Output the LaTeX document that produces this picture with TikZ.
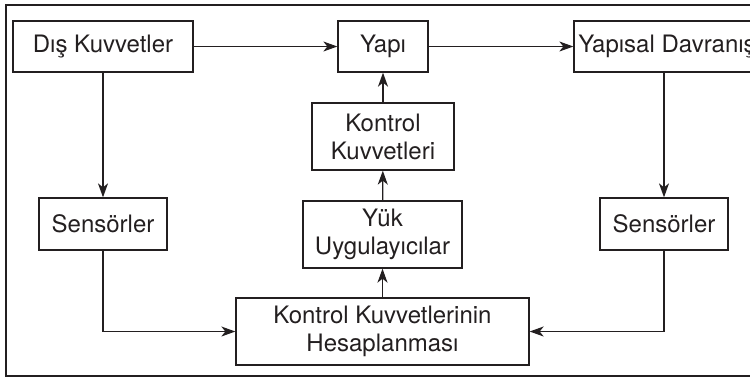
\documentclass[tikz,border=0pt]{standalone}
\usepackage{fontspec}
\setmainfont{TeX Gyre Heros}
\usetikzlibrary{arrows.meta}
\definecolor{ink}{RGB}{35,31,32}
\begin{document}
\begin{tikzpicture}[x=0.5pt,y=-0.5pt,
  box/.style={draw=ink, text=ink, line width=0.65pt, inner sep=0pt, align=center,
    font=\fontsize{12}{14}\selectfont},
  arr/.style={draw=ink, line width=0.65pt, -{Stealth[length=7pt,width=5pt,inset=2pt]}},
  frame/.style={draw=ink, line width=1.2pt}]
\useasboundingbox (0,0) rectangle (750,382);
\draw[frame] (780,5) -- (6,5) -- (6,376) -- (780,376);
\node[box, minimum width=90pt, minimum height=25.5pt] (dis) at (103,46.5) {Dış Kuvvetler};
\node[box, minimum width=45pt, minimum height=25.5pt] (yapi) at (383,46.5) {Yapı};
\node[box, minimum width=93pt, minimum height=25.5pt] (yd) at (667,46.5) {Yapısal Davranış};
\node[box, minimum width=71pt, minimum height=33.5pt] (kk) at (383,136.5) {Kontrol\\Kuvvetleri};
\node[box, minimum width=79.5pt, minimum height=33.5pt] (yuk) at (382.5,234.5) {Yük\\Uygulayıcılar};
\node[box, minimum width=146.5pt, minimum height=33.5pt] (hes) at (382.5,331.5) {Kontrol Kuvvetlerinin\\Hesaplanması};
\node[box, minimum width=64pt, minimum height=26pt] (sL) at (103,224) {Sensörler};
\node[box, minimum width=64pt, minimum height=26pt] (sR) at (664,224) {Sensörler};
\draw[arr] (dis) -- (yapi);
\draw[arr] (yapi) -- (yd);
\draw[arr] (dis) -- (sL);
\draw[arr] (sR.north |- yd.south) -- (sR.north);
\draw[arr] (sL.south) |- (hes.west);
\draw[arr] (sR.south) |- (hes.east);
\draw[arr] (hes) -- (yuk);
\draw[arr] (yuk) -- (kk);
\draw[arr] (kk) -- (yapi);
\end{tikzpicture}
\end{document}
